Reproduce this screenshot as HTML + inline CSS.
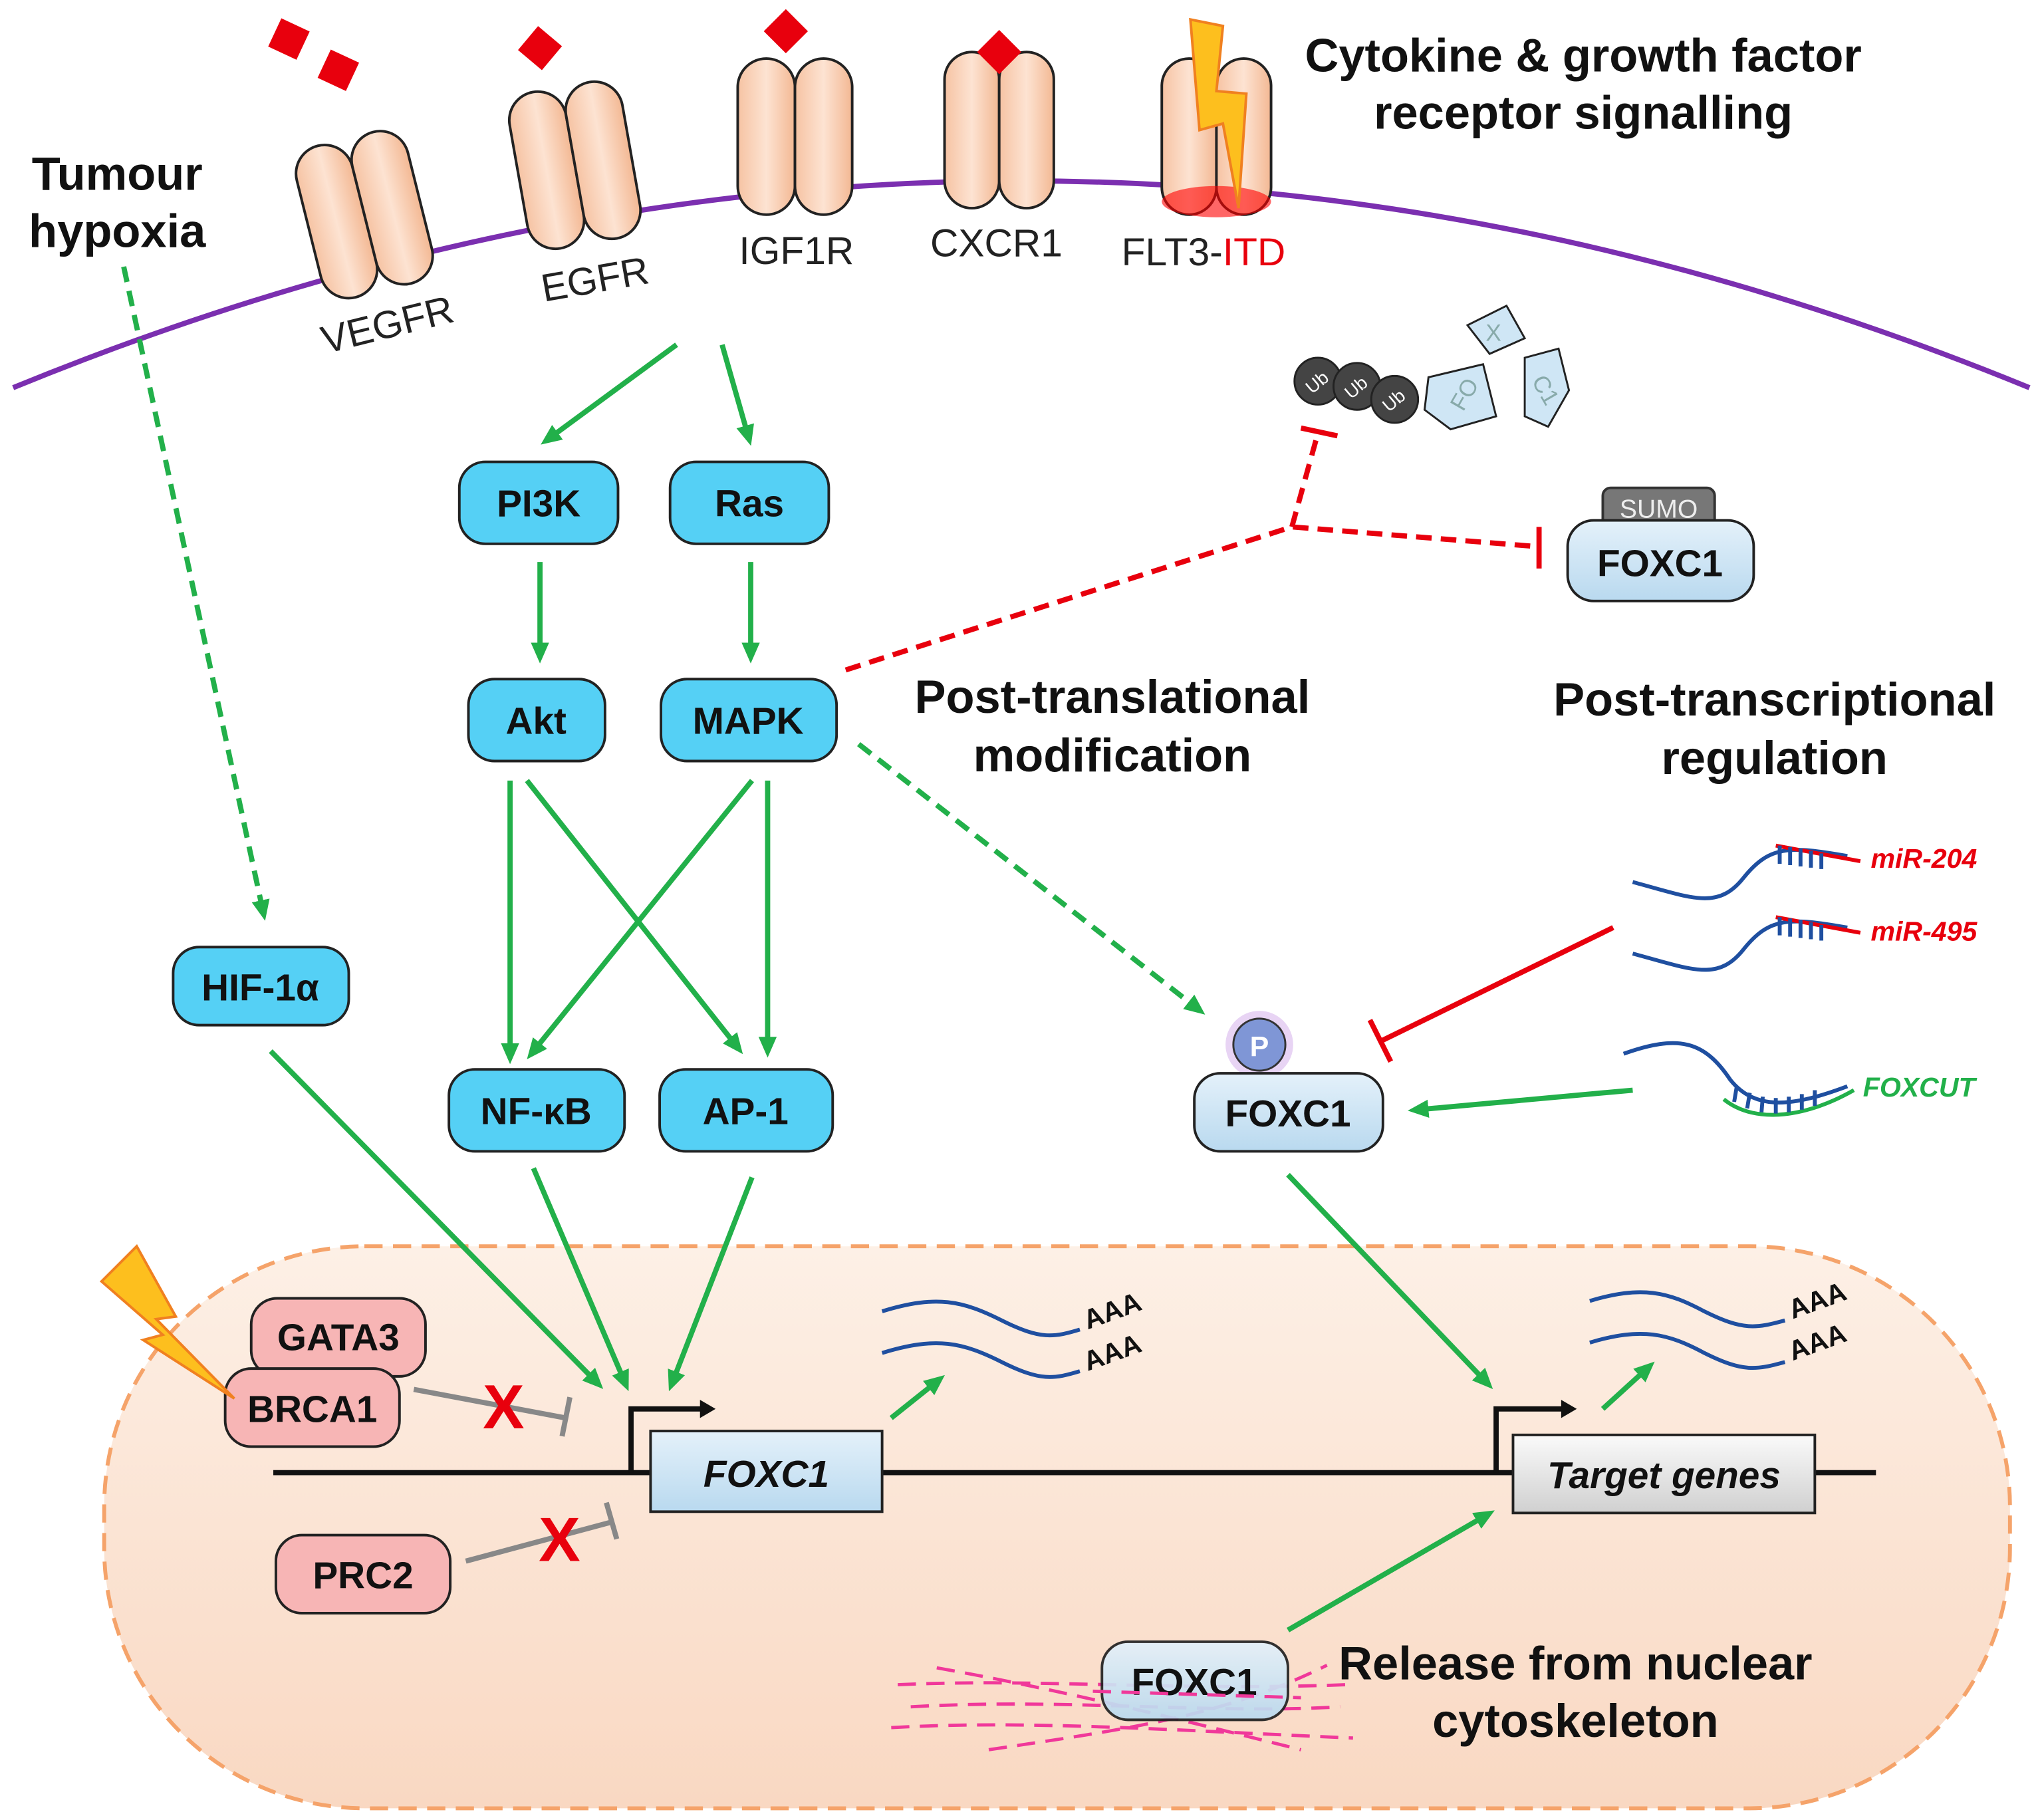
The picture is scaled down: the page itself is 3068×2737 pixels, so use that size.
<!DOCTYPE html>
<html><head><meta charset="utf-8"><style>
html,body{margin:0;padding:0;background:#fff;}
svg{display:block;}
text{font-family:"Liberation Sans",Arial,sans-serif;}
</style></head><body>
<svg width="3068" height="2737" viewBox="0 0 1568 1399" xmlns="http://www.w3.org/2000/svg">
<defs>
<marker id="agL" markerWidth="16" markerHeight="16" refX="8" refY="8" orient="auto" markerUnits="userSpaceOnUse"><path d="M0,1 L16,8 L0,15 z" fill="#22b04a"/></marker>
<linearGradient id="nuc" x1="0" y1="0" x2="0" y2="1"><stop offset="0" stop-color="#fdf0e6"/><stop offset="1" stop-color="#f9d8c2"/></linearGradient>
<linearGradient id="rec" x1="0" y1="0" x2="1" y2="0"><stop offset="0" stop-color="#f6c3a3"/><stop offset="0.5" stop-color="#fde3d2"/><stop offset="1" stop-color="#f3b893"/></linearGradient>
<linearGradient id="lb" x1="0" y1="0" x2="0" y2="1"><stop offset="0" stop-color="#e4f1fa"/><stop offset="1" stop-color="#b9d9ef"/></linearGradient>
<linearGradient id="gr" x1="0" y1="0" x2="0" y2="1"><stop offset="0" stop-color="#fafafa"/><stop offset="1" stop-color="#d0d0d0"/></linearGradient>
</defs>

<rect x="80" y="958" width="1465" height="432" rx="200" fill="url(#nuc)" stroke="#f5a36a" stroke-width="3" stroke-dasharray="14,8"/>
<path d="M10,298 Q785,-20 1560,298" fill="none" stroke="#7b2fb0" stroke-width="4"/>

<g stroke="#222" stroke-width="2" fill="url(#rec)">
<g transform="rotate(-14 280 165)"><rect x="236" y="105" width="44" height="120" rx="22"/><rect x="280" y="105" width="44" height="120" rx="22"/></g>
<g transform="rotate(-10 442 128)"><rect x="398" y="66" width="44" height="122" rx="22"/><rect x="442" y="66" width="44" height="122" rx="22"/></g>
<rect x="567" y="45" width="44" height="120" rx="22"/><rect x="611" y="45" width="44" height="120" rx="22"/>
<rect x="726" y="40" width="42" height="120" rx="21"/><rect x="768" y="40" width="42" height="120" rx="21"/>
<rect x="893" y="45" width="42" height="120" rx="21"/><rect x="935" y="45" width="42" height="120" rx="21"/>
</g>
<ellipse cx="935" cy="155" rx="42" ry="12" fill="#f00" opacity="0.6"/>
<g fill="#e8000d">
<rect x="210" y="18" width="24" height="24" transform="rotate(25 222 30)"/>
<rect x="248" y="42" width="24" height="24" transform="rotate(25 260 54)"/>
<rect x="403" y="25" width="24" height="24" transform="rotate(40 415 37)"/>
<rect x="592" y="12" width="24" height="24" transform="rotate(45 604 24)"/>
<rect x="756" y="28" width="24" height="24" transform="rotate(45 768 40)"/>
</g>
<polygon points="915,15 940,20 935,70 958,72 952,160 940,95 922,100" fill="#fdbf1e" stroke="#f08020" stroke-width="2"/>

<g font-size="30" fill="#222">
<text x="250" y="272" transform="rotate(-14 250 272)">VEGFR</text>
<text x="418" y="232" transform="rotate(-10 418 232)">EGFR</text>
<text x="568" y="203">IGF1R</text>
<text x="715" y="197">CXCR1</text>
<text x="862" y="204">FLT3-<tspan fill="#e8000d">ITD</tspan></text>
</g>
<g font-size="36" font-weight="bold" fill="#111">
<text x="1217" y="55" text-anchor="middle">Cytokine &amp; growth factor</text>
<text x="1217" y="99" text-anchor="middle">receptor signalling</text>
<text x="90" y="146" text-anchor="middle">Tumour</text>
<text x="90" y="190" text-anchor="middle">hypoxia</text>
<text x="855" y="548" text-anchor="middle">Post-translational</text>
<text x="855" y="593" text-anchor="middle">modification</text>
<text x="1364" y="550" text-anchor="middle">Post-transcriptional</text>
<text x="1364" y="595" text-anchor="middle">regulation</text>
<text x="1211" y="1291" text-anchor="middle">Release from nuclear</text>
<text x="1211" y="1335" text-anchor="middle">cytoskeleton</text>
</g>

<g stroke="#222" stroke-width="1.5">
<circle cx="1013" cy="293" r="18" fill="#444"/>
<circle cx="1043" cy="297" r="18" fill="#444"/>
<circle cx="1072" cy="307" r="18" fill="#444"/>
<path d="M1098,290 L1140,280 L1150,320 L1115,330 L1095,315 z" fill="#cfe6f5"/>
<path d="M1128,250 L1158,235 L1172,260 L1145,272 z" fill="#cfe6f5"/>
<path d="M1172,275 L1198,268 L1206,300 L1190,328 L1172,320 z" fill="#cfe6f5"/>
</g>
<g font-size="14" fill="#fff"><text x="1003" y="298" transform="rotate(-40 1013 293)">Ub</text><text x="1033" y="302" transform="rotate(-40 1043 297)">Ub</text><text x="1062" y="312" transform="rotate(-40 1072 307)">Ub</text></g>
<g font-size="18" fill="#8aa"><text x="1112" y="315" transform="rotate(-60 1120 305)">FO</text><text x="1142" y="262">X</text><text x="1178" y="305" transform="rotate(60 1188 298)">C1</text></g>

<rect x="1232" y="375" width="86" height="30" rx="6" fill="#777" stroke="#333" stroke-width="2"/>
<text x="1275" y="398" font-size="20" fill="#eee" text-anchor="middle">SUMO</text>
<rect x="1205" y="400" width="143" height="62" rx="20" fill="url(#lb)" stroke="#222" stroke-width="2"/>
<text x="1276" y="443" font-size="29" font-weight="bold" text-anchor="middle" fill="#111">FOXC1</text>

<g stroke="#e8000d" stroke-width="4" fill="none" stroke-dasharray="12,7">
<path d="M650,515 L993,405 L1180,420"/><path d="M993,405 L1013,333"/>
</g>
<g stroke="#e8000d" stroke-width="4"><line x1="1183" y1="405" x2="1183" y2="437"/><line x1="1000" y1="329" x2="1028" y2="335"/></g>

<g stroke="#222" stroke-width="2" fill="#55d0f5">
<rect x="353" y="355" width="122" height="63" rx="20"/>
<rect x="515" y="355" width="122" height="63" rx="20"/>
<rect x="360" y="522" width="105" height="63" rx="20"/>
<rect x="508" y="522" width="135" height="63" rx="20"/>
<rect x="133" y="728" width="135" height="60" rx="20"/>
<rect x="345" y="822" width="135" height="63" rx="20"/>
<rect x="507" y="822" width="133" height="63" rx="20"/>
</g>
<g font-size="29" font-weight="bold" fill="#111" text-anchor="middle">
<text x="414" y="397">PI3K</text><text x="576" y="397">Ras</text>
<text x="412" y="564">Akt</text><text x="575" y="564">MAPK</text>
<text x="200" y="769">HIF-1α</text><text x="412" y="864">NF-κB</text><text x="573" y="864">AP-1</text>
</g>

<g stroke="#22b04a" stroke-width="4" fill="none" marker-end="url(#agL)">
<line x1="520" y1="265" x2="422" y2="337"/>
<line x1="555" y1="265" x2="575" y2="335"/>
<line x1="415" y1="432" x2="415" y2="502"/>
<line x1="577" y1="432" x2="577" y2="502"/>
<line x1="392" y1="600" x2="392" y2="810"/>
<line x1="405" y1="600" x2="566" y2="804"/>
<line x1="578" y1="600" x2="410" y2="808"/>
<line x1="590" y1="600" x2="590" y2="805"/>
<line x1="208" y1="808" x2="458" y2="1062"/>
<line x1="410" y1="898" x2="480" y2="1062"/>
<line x1="578" y1="905" x2="517" y2="1062"/>
<line x1="990" y1="903" x2="1142" y2="1062"/>
<line x1="1255" y1="838" x2="1090" y2="853"/>
<line x1="990" y1="1253" x2="1142" y2="1165"/>
<line x1="685" y1="1090" x2="720" y2="1062"/>
<line x1="1232" y1="1083" x2="1266" y2="1052"/>
</g>
<g stroke="#22b04a" stroke-width="4" fill="none" stroke-dasharray="12,7" marker-end="url(#agL)">
<line x1="660" y1="572" x2="920" y2="775"/>
<line x1="95" y1="205" x2="202" y2="700"/>
</g>

<line x1="1240" y1="713" x2="1062" y2="800" stroke="#e8000d" stroke-width="4"/>
<line x1="1053" y1="784" x2="1069" y2="816" stroke="#e8000d" stroke-width="4"/>

<g fill="none" stroke-width="3">
<path d="M1255,678 C1300,690 1320,700 1340,675 C1360,650 1375,650 1420,658" stroke="#1f4fa0"/>
<path d="M1365,650 L1430,662" stroke="#e8000d"/>
<path d="M1368,650 l0,14 M1376,651 l0,14 M1384,652 l0,14 M1392,654 l0,13 M1400,656 l0,12" stroke="#1f4fa0"/>
<path d="M1255,733 C1300,745 1320,755 1340,730 C1360,705 1375,705 1420,713" stroke="#1f4fa0"/>
<path d="M1365,705 L1430,717" stroke="#e8000d"/>
<path d="M1368,705 l0,14 M1376,706 l0,14 M1384,707 l0,14 M1392,709 l0,13 M1400,711 l0,12" stroke="#1f4fa0"/>
<path d="M1248,810 C1290,795 1310,800 1330,830 C1350,855 1380,850 1420,835" stroke="#1f4fa0"/>
<path d="M1325,845 C1350,865 1390,858 1425,838" stroke="#22b04a"/>
<path d="M1335,835 l-2,12 M1345,840 l-2,12 M1355,843 l-1,12 M1365,844 l0,12 M1375,843 l0,12 M1385,841 l0,12 M1395,838 l0,12" stroke="#1f4fa0"/>
</g>
<g font-size="21" font-weight="bold" font-style="italic">
<text x="1438" y="667" fill="#e8000d">miR-204</text>
<text x="1438" y="723" fill="#e8000d">miR-495</text>
<text x="1432" y="843" fill="#22b04a">FOXCUT</text>
</g>

<circle cx="968" cy="803" r="26" fill="#d9b8ec" opacity="0.6"/>
<circle cx="968" cy="803" r="20" fill="#7f96d6" stroke="#333" stroke-width="1.5"/>
<text x="968" y="812" font-size="22" font-weight="bold" fill="#fff" text-anchor="middle">P</text>
<rect x="918" y="825" width="145" height="60" rx="20" fill="url(#lb)" stroke="#222" stroke-width="2"/>
<text x="990" y="866" font-size="29" font-weight="bold" text-anchor="middle" fill="#111">FOXC1</text>

<line x1="210" y1="1132" x2="1442" y2="1132" stroke="#111" stroke-width="4"/>
<path d="M485,1132 L485,1083 L540,1083" stroke="#111" stroke-width="4" fill="none"/>
<polygon points="538,1076 550,1083 538,1090" fill="#111"/>
<path d="M1150,1132 L1150,1083 L1202,1083" stroke="#111" stroke-width="4" fill="none"/>
<polygon points="1200,1076 1212,1083 1200,1090" fill="#111"/>
<rect x="500" y="1100" width="178" height="62" fill="url(#lb)" stroke="#222" stroke-width="2"/>
<text x="589" y="1143" font-size="29" font-weight="bold" font-style="italic" text-anchor="middle" fill="#111">FOXC1</text>
<rect x="1163" y="1103" width="232" height="60" fill="url(#gr)" stroke="#222" stroke-width="2"/>
<text x="1279" y="1144" font-size="29" font-weight="bold" font-style="italic" text-anchor="middle" fill="#111">Target genes</text>

<g fill="none" stroke="#1f4fa0" stroke-width="3">
<path d="M678,1008 C720,995 740,1000 770,1015 C800,1030 810,1028 830,1022"/>
<path d="M678,1040 C720,1027 740,1032 770,1047 C800,1062 810,1060 830,1054"/>
<path d="M1222,1000 C1262,988 1282,993 1310,1008 C1340,1023 1350,1021 1372,1015"/>
<path d="M1222,1032 C1262,1020 1282,1025 1310,1040 C1340,1055 1350,1053 1372,1047"/>
</g>
<g font-size="21" font-weight="bold" fill="#111">
<text x="836" y="1022" transform="rotate(-20 836 1022)">AAA</text>
<text x="836" y="1054" transform="rotate(-20 836 1054)">AAA</text>
<text x="1378" y="1014" transform="rotate(-20 1378 1014)">AAA</text>
<text x="1378" y="1046" transform="rotate(-20 1378 1046)">AAA</text>
</g>

<g stroke="#222" stroke-width="2" fill="#f7b5b5">
<rect x="193" y="998" width="134" height="60" rx="20"/>
<rect x="173" y="1052" width="134" height="60" rx="20"/>
<rect x="212" y="1180" width="134" height="60" rx="20"/>
</g>
<g font-size="29" font-weight="bold" fill="#111" text-anchor="middle">
<text x="260" y="1038">GATA3</text><text x="240" y="1093">BRCA1</text><text x="279" y="1221">PRC2</text>
</g>
<polygon points="78,985 105,958 135,1012 120,1014 180,1075 110,1030 125,1026" fill="#fdbf1e" stroke="#f08020" stroke-width="2"/>

<g stroke="#888" stroke-width="4">
<line x1="318" y1="1068" x2="435" y2="1090"/><line x1="438" y1="1074" x2="432" y2="1104"/>
<line x1="358" y1="1200" x2="470" y2="1170"/><line x1="466" y1="1155" x2="474" y2="1183"/>
</g>
<g font-size="48" font-weight="bold" fill="#e8000d" text-anchor="middle">
<text x="387" y="1098">X</text><text x="430" y="1200">X</text>
</g>

<g stroke="#f0389a" stroke-width="2.5" fill="none" stroke-dasharray="14,8">
<path d="M690,1295 C800,1290 900,1300 1035,1295"/>
<path d="M700,1312 C820,1305 930,1318 1030,1312"/>
<path d="M685,1328 C790,1322 900,1330 1040,1336"/>
<path d="M760,1345 C860,1330 940,1320 1020,1280"/>
<path d="M720,1282 C820,1300 900,1320 1000,1345"/>
</g>
<rect x="847" y="1262" width="143" height="60" rx="20" fill="url(#lb)" stroke="#222" stroke-width="2" opacity="0.92"/>
<text x="918" y="1303" font-size="29" font-weight="bold" text-anchor="middle" fill="#111">FOXC1</text>
<g stroke="#f0389a" stroke-width="2.5" stroke-dasharray="14,8"><path d="M840,1300 L1000,1305"/></g>
</svg>
</body></html>
